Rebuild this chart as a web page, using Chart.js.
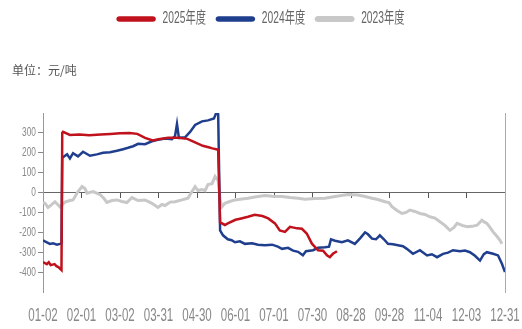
<!DOCTYPE html>
<html>
<head>
<meta charset="utf-8">
<script src="https://cdn.jsdelivr.net/npm/chart.js@4.4.1/dist/chart.umd.min.js"></script>
<style>
  html, body { margin: 0; padding: 0; background: #fff; }
</style>
</head>
<body>
<canvas id="myChart" width="522" height="329"></canvas>
<script>
// trading-day index (0..240) and value (元/吨)
const tickLabels = ["01-02", "02-01", "03-02", "03-31", "04-30", "06-01", "07-01",
  "07-30", "08-28", "09-28", "11-04", "12-03", "12-31"];
const seriesNames = ["2025年度", "2024年度", "2023年度"];

const redIdx = [0, 2, 3, 4, 6, 7, 8, 9.6, 10, 10.4, 14, 19, 24, 30, 35, 40, 45, 49, 53, 57, 60, 65, 70, 75, 79, 83, 86, 88, 90, 91,
  92, 94.5, 96, 100, 103, 106.5, 110, 114, 117, 120.5, 123, 125.7, 128.3, 132, 134.5, 137, 139.7, 142.9, 145.5, 147.5, 149, 150.6, 152.7];
const redVal = [-350, -360, -350, -365, -360, -370, -375, -390, 300, 305, 290, 292, 288, 292, 295, 298, 300, 295, 275, 262, 268, 275, 276, 270, 252, 235, 228, 222, 218, 215,
  -150, -163, -155, -137, -130, -122, -112, -118, -130, -155, -190, -198, -172, -180, -182, -206, -257, -290, -292, -316, -325, -308, -295];

const blueIdx = [0, 2, 3.6, 5.2, 7.3, 8.8, 9.6, 10, 10.4, 12.5, 14, 15.6, 18.2, 20.8, 24.4, 28, 31.2, 34.8, 38.4, 41.6, 44.2, 46.8, 49.4, 53, 56.6, 59.7, 63.4, 67, 68.6, 69.6, 70.6, 73.8, 76.4, 79, 82.6, 85.7, 88.8, 90.4, 91,
  92, 93.5, 96, 98, 99.7, 102.3, 104.9, 108.6, 111.7, 115.3, 119, 122, 124.2, 127.3, 129.9, 132.5, 135, 136.6, 140.3, 142.9, 146.5, 148.6, 149.6, 151.7, 155.3, 158.4, 162, 164.7, 167.3, 168.8, 170.9, 173, 175, 177.1, 179.2, 181.8, 184.4, 187, 189, 192.2, 195.8, 199.5, 202, 204.7, 207.8, 210.4, 213, 216.6, 219.2, 221.8, 224.4, 227, 229, 230.6, 233.8, 236.4, 238.4, 239.7, 240];
const blueVal = [-240, -250, -258, -255, -262, -258, -255, 175, 178, 193, 172, 198, 182, 205, 185, 192, 200, 203, 210, 218, 225, 233, 245, 243, 258, 265, 272, 268, 285, 345, 275, 278, 305, 340, 358, 363, 372, 410, 395,
  -190, -215, -235, -240, -250, -245, -258, -255, -262, -265, -262, -272, -283, -278, -292, -298, -315, -295, -290, -278, -275, -272, -235, -242, -250, -240, -258, -230, -200, -210, -232, -235, -215, -235, -258, -260, -265, -270, -283, -308, -290, -316, -310, -325, -308, -302, -290, -295, -292, -300, -318, -342, -310, -300, -308, -316, -358, -392, -400];

const grayIdx = [0, 1, 2.6, 3.6, 6.2, 8.8, 11.4, 14, 15.6, 18.2, 20.3, 21.8, 22.9, 26, 29.6, 31.7, 33.2, 35.8, 38.4, 41, 43.6, 46.2, 49.4, 53, 56.6, 59.7, 61.8, 63.4, 66, 68.6, 72.2, 75.3, 77.4, 79, 80.5, 82.6, 84.2, 85.7, 87.8, 89.4, 91,
  92, 93, 94.5, 97, 99.7, 103.4, 106.5, 110, 115.3, 119, 124.2, 128.3, 132.5, 136.1, 141.3, 146.5, 151.7, 158.4, 163.6, 167.3, 170.9, 174, 177.7, 179.7, 181.3, 183.9, 186.5, 188.6, 190.6, 193.2, 195.8, 198.4, 201, 203.6, 206.2, 208.8, 211.4, 213.5, 215.1, 217.7, 220.3, 223, 225.5, 228, 229.6, 230.6, 232.2, 233.8, 235.8, 237.4, 238.4];
const grayVal = [-50, -54, -75, -68, -46, -72, -48, -40, -37, 5, 30, 20, -3, 5, -10, -30, -50, -40, -37, -45, -50, -25, -40, -37, -54, -75, -60, -65, -48, -46, -37, -29, 5, 30, 10, 15, 10, 40, 45, 81, 60,
  -40, -71, -54, -45, -37, -32, -29, -22, -15, -18, -20, -25, -29, -34, -30, -29, -20, -10, -12, -20, -29, -35, -46, -50, -71, -90, -105, -100, -88, -95, -105, -110, -122, -128, -147, -165, -190, -175, -155, -165, -172, -170, -164, -139, -150, -155, -175, -198, -220, -240, -257];

const toPoints = (xs, ys) => xs.map((x, i) => ({ x: x, y: ys[i] }));

const FONT = "'Liberation Sans', 'Noto Sans CJK SC', sans-serif";
const SQUEEZE = 0.64; // the source picture's text is very narrow
const hiddenY = (v) => v === 400 || v === -500;

const canvas = document.getElementById("myChart");
const ctx = canvas.getContext("2d");

// squeeze every text drawn in the Liberation face horizontally
const baseFill = ctx.fillText;
const baseMeasure = ctx.measureText;
ctx.fillText = function (text, x, y, maxWidth) {
  if (!this.font.includes("Liberation Sans")) return baseFill.call(this, text, x, y, maxWidth);
  this.save();
  this.translate(x, y);
  this.scale(SQUEEZE, 1);
  baseFill.call(this, text, 0, 0);
  this.restore();
};
ctx.measureText = function (text) {
  const m = baseMeasure.call(this, text);
  if (!this.font.includes("Liberation Sans")) return m;
  return {
    width: m.width * SQUEEZE,
    actualBoundingBoxAscent: m.actualBoundingBoxAscent,
    actualBoundingBoxDescent: m.actualBoundingBoxDescent,
  };
};

const layoutFix = {
  id: "layoutFix",
  beforeInit(chart) {
    const fit = chart.legend.fit;
    chart.legend.fit = function () {
      fit.call(this);
      this.height = 113;
    };
  },
  afterDraw(chart) {
    const c = chart.ctx;
    c.save();
    c.fillStyle = "#555";
    c.font = "12px 'Noto Sans CJK SC'";
    c.textBaseline = "middle";
    c.fillText("单位：元/吨", 12, 70);
    c.restore();
  },
};

const lineSet = (label, pts, color, width) => ({
  label: label,
  data: pts,
  borderColor: color,
  backgroundColor: color,
  borderWidth: width,
  pointRadius: 0,
  tension: 0,
  fill: false,
});

new Chart(ctx, {
  type: "line",
  data: {
    datasets: [
      lineSet(seriesNames[0], toPoints(redIdx, redVal), "#c0121c", 2.5),
      lineSet(seriesNames[1], toPoints(blueIdx, blueVal), "#1f3f8e", 2.5),
      lineSet(seriesNames[2], toPoints(grayIdx, grayVal), "#c8c8c8", 3),
    ],
  },
  options: {
    responsive: false,
    animation: false,
    layout: { padding: 0 },
    plugins: {
      tooltip: { enabled: false },
      legend: {
        labels: {
          boxWidth: 37,
          boxHeight: 3,
          useBorderRadius: true,
          borderRadius: 2,
          padding: 11,
          color: "#666",
          font: { family: FONT, size: 16 },
        },
      },
    },
    scales: {
      x: {
        type: "linear",
        position: "bottom",
        min: 0,
        max: 240,
        afterFit: (s) => { s.height = 37; s.paddingLeft = 0; s.paddingRight = 0; },
        grid: { display: false, drawTicks: false },
        border: { display: false },
        ticks: {
          stepSize: 20,
          autoSkip: false,
          maxRotation: 0,
          padding: 13,
          color: "#888",
          font: { family: FONT, size: 18 },
          callback: (v) => tickLabels[Math.round(v / 20)],
        },
      },
      x0: {
        type: "linear",
        position: { y: 0 },
        min: 0,
        max: 240,
        afterFit: (s) => { s.height = 0; s.paddingLeft = 0; s.paddingRight = 0; },
        grid: { drawOnChartArea: false, drawTicks: true, tickLength: 5, color: "#555" },
        border: { display: true, color: "#666", width: 1 },
        ticks: { stepSize: 20, autoSkip: false, callback: () => "" },
      },
      y: {
        min: -500,
        max: 400,
        afterFit: (s) => { s.width = 43; },
        grid: {
          drawOnChartArea: false,
          drawTicks: true,
          tickLength: 5,
          color: (c) => (hiddenY(c.tick.value) ? "rgba(0,0,0,0)" : "#888"),
        },
        border: { display: true, color: "#999" },
        ticks: {
          stepSize: 100,
          padding: 2,
          color: "#888",
          font: { family: FONT, size: 13 },
          callback: (v) => (hiddenY(v) ? "" : v),
        },
      },
      yR: {
        position: "right",
        min: -500,
        max: 400,
        afterFit: (s) => { s.width = 17; },
        grid: { display: false },
        border: { display: true, color: "#aaa" },
        ticks: { display: false },
      },
    },
  },
  plugins: [layoutFix],
});
</script>
</body>
</html>
